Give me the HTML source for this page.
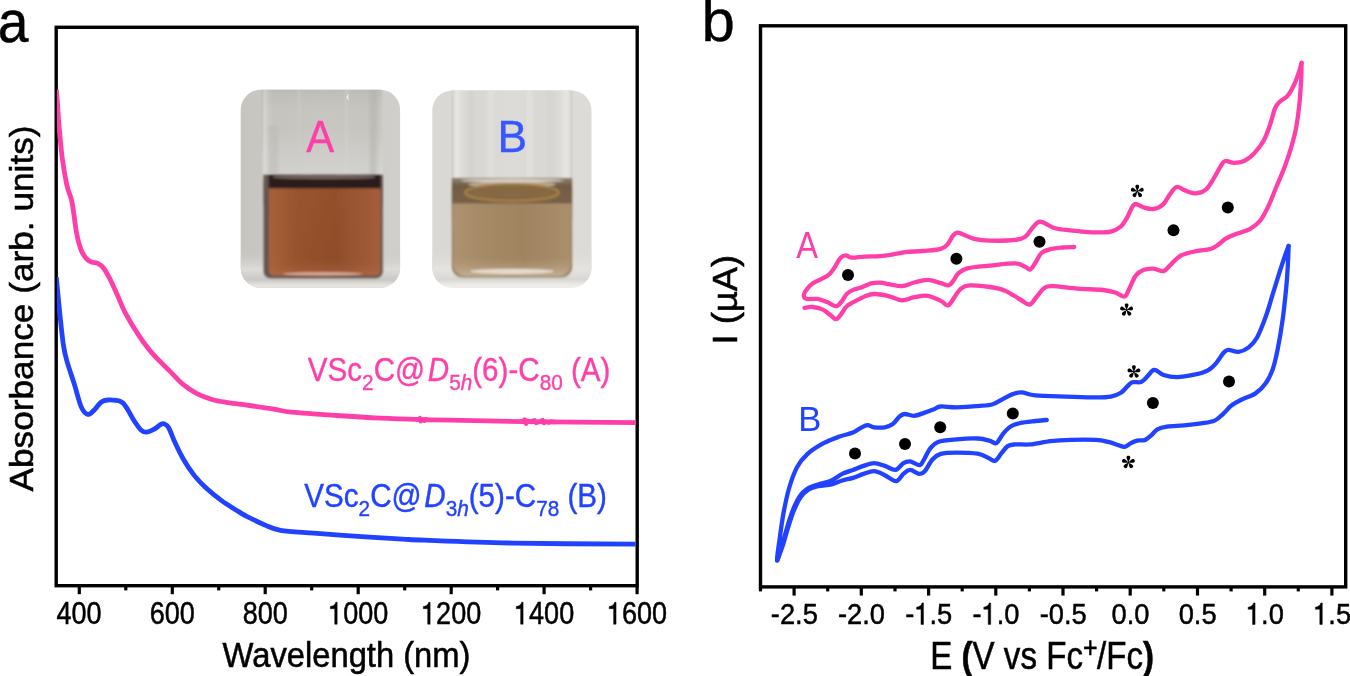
<!DOCTYPE html>
<html><head><meta charset="utf-8"><title>figure</title>
<style>
html,body{margin:0;padding:0;background:#fff;}
body{width:1350px;height:676px;overflow:hidden;}
svg{display:block;font-family:"Liberation Sans", sans-serif;opacity:0.999;}
</style></head><body>
<svg width="1350" height="676" viewBox="0 0 1350 676">
<defs>
  <clipPath id="clipA"><rect x="240.7" y="89.8" width="159.4" height="198" rx="20" ry="20"/></clipPath>
  <clipPath id="clipPlotA"><rect x="56.9" y="27" width="578.8" height="559"/></clipPath>
  <clipPath id="clipB"><rect x="432.3" y="90.5" width="159.2" height="197" rx="20" ry="20"/></clipPath>
  <filter id="blur2" x="-50%" y="-5%" width="200%" height="110%"><feGaussianBlur stdDeviation="1.5 0.5"/></filter>
  <filter id="blur1" x="-5%" y="-5%" width="110%" height="110%"><feGaussianBlur stdDeviation="0.8"/></filter>
  <linearGradient id="bgA" x1="0" y1="0" x2="1" y2="0">
    <stop offset="0" stop-color="#c6c5c0"/><stop offset="0.5" stop-color="#cbcac6"/><stop offset="1" stop-color="#d0cfcb"/>
  </linearGradient>
  <linearGradient id="tblA" x1="0" y1="0" x2="0" y2="1">
    <stop offset="0" stop-color="#cbcac6" stop-opacity="0"/><stop offset="0.45" stop-color="#dddcd8"/><stop offset="0.72" stop-color="#c9c8c4"/><stop offset="0.85" stop-color="#e4e3df"/><stop offset="1" stop-color="#e8e7e3"/>
  </linearGradient>
  <linearGradient id="glassA" x1="0" y1="0" x2="1" y2="0">
    <stop offset="0" stop-color="#bcbbb6"/><stop offset="0.03" stop-color="#cfcec9"/><stop offset="0.1" stop-color="#c5c4bf"/><stop offset="0.5" stop-color="#c7c6c1"/><stop offset="0.88" stop-color="#c6c5c0"/><stop offset="0.93" stop-color="#bdbcb7"/><stop offset="1" stop-color="#cccbc6"/>
  </linearGradient>
  <linearGradient id="glassAv" x1="0" y1="0" x2="0" y2="1">
    <stop offset="0" stop-color="#000" stop-opacity="0.05"/><stop offset="0.45" stop-color="#fff" stop-opacity="0"/><stop offset="1" stop-color="#fff" stop-opacity="0.22"/>
  </linearGradient>
  <linearGradient id="liqA" x1="0" y1="0" x2="1" y2="0">
    <stop offset="0" stop-color="#a9623b"/><stop offset="0.25" stop-color="#96522d"/><stop offset="0.6" stop-color="#8f4d2a"/><stop offset="0.85" stop-color="#9c5735"/><stop offset="1" stop-color="#a65e3c"/>
  </linearGradient>
  <linearGradient id="liqAv" x1="0" y1="0" x2="0" y2="1">
    <stop offset="0" stop-color="#a05a34" stop-opacity="0.25"/><stop offset="0.8" stop-color="#a05a34" stop-opacity="0"/><stop offset="1" stop-color="#b87050" stop-opacity="0.5"/>
  </linearGradient>
  <linearGradient id="bgB" x1="0" y1="0" x2="1" y2="0">
    <stop offset="0" stop-color="#dad8d4"/><stop offset="1" stop-color="#dddbd7"/>
  </linearGradient>
  <linearGradient id="tblB" x1="0" y1="0" x2="0" y2="1">
    <stop offset="0" stop-color="#dcdad6" stop-opacity="0"/><stop offset="0.5" stop-color="#e6e4e0"/><stop offset="0.75" stop-color="#d9d7d3"/><stop offset="0.88" stop-color="#ecebe7"/><stop offset="1" stop-color="#efeeea"/>
  </linearGradient>
  <linearGradient id="glassB" x1="0" y1="0" x2="1" y2="0">
    <stop offset="0" stop-color="#cfcdc9"/><stop offset="0.04" stop-color="#e2e0dd"/><stop offset="0.15" stop-color="#d8d6d3"/><stop offset="0.5" stop-color="#dddbd8"/><stop offset="0.85" stop-color="#d9d7d4"/><stop offset="0.96" stop-color="#e4e2df"/><stop offset="1" stop-color="#cfcdc9"/>
  </linearGradient>
  <linearGradient id="liqB" x1="0" y1="0" x2="1" y2="0">
    <stop offset="0" stop-color="#ad9270"/><stop offset="0.3" stop-color="#a58965"/><stop offset="0.6" stop-color="#a08360"/><stop offset="1" stop-color="#aa8f6c"/>
  </linearGradient>
  <linearGradient id="liqBv" x1="0" y1="0" x2="0" y2="1">
    <stop offset="0" stop-color="#b39a78" stop-opacity="0"/><stop offset="0.75" stop-color="#b39a78" stop-opacity="0"/><stop offset="1" stop-color="#cbb9a0" stop-opacity="0.8"/>
  </linearGradient>
  <linearGradient id="menB" x1="0" y1="0" x2="0" y2="1">
    <stop offset="0" stop-color="#8e8272"/><stop offset="0.3" stop-color="#6f5c45"/><stop offset="1" stop-color="#7a6247"/>
  </linearGradient>
</defs>
<rect width="1350" height="676" fill="#fff"/>

<text transform="translate(-2.3 41.8) scale(0.92 1)" font-size="60" fill="#000" stroke="#000" stroke-width="0.5">a</text>
<text x="701.5" y="41" font-size="60" fill="#000" stroke="#000" stroke-width="0.4">b</text>

<g clip-path="url(#clipA)">
  <rect x="238" y="88" width="166" height="202" fill="url(#bgA)"/>
  <rect x="238" y="251" width="166" height="40" fill="url(#tblA)"/>
  <rect x="261.5" y="88" width="121" height="87" fill="url(#glassA)"/>
  <rect x="261.5" y="88" width="121" height="87" fill="url(#glassAv)"/>
  <g filter="url(#blur2)" opacity="0.5">
    <rect x="262.5" y="90" width="4" height="84" fill="#dddcd8"/>
    <rect x="268" y="125" width="10" height="48" fill="#bbbab5"/>
    <rect x="345" y="90" width="3" height="84" fill="#d6d5d1"/>
    <rect x="370" y="90" width="5" height="84" fill="#b9b8b3"/>
    <rect x="298" y="90" width="2.5" height="84" fill="#d2d1cd"/>
  </g>
  <path d="M346.5 96.5l2.2 -3.2l-0.6 4.2l1.2 2.6l-2.2 -1.6z" fill="#f4f3f0"/>
  <g filter="url(#blur1)">
    <rect x="263.6" y="174.8" width="119.2" height="103.4" rx="7" ry="7" fill="#66554f"/>
    <rect x="263.6" y="174.8" width="119.2" height="30" fill="#66554f"/>
    <rect x="269" y="188" width="111.4" height="87.6" rx="5" ry="5" fill="url(#liqA)"/>
    <rect x="269" y="188" width="111.4" height="40" fill="url(#liqA)"/>
    <rect x="269" y="188" width="111.4" height="87.6" rx="5" ry="5" fill="url(#liqAv)"/>
    <rect x="268.6" y="175" width="112" height="13.3" fill="#2a1f1d"/>
    <ellipse cx="324" cy="177" rx="52" ry="2.3" fill="#6f5f5a"/>
    <ellipse cx="322.5" cy="273.8" rx="40" ry="1.6" fill="#d9ab96"/>
  </g>
</g>

<g clip-path="url(#clipB)">
  <rect x="430" y="88" width="166" height="202" fill="url(#bgB)"/>
  <rect x="430" y="248" width="166" height="42" fill="url(#tblB)"/>
  <rect x="451.5" y="88" width="121" height="92" fill="url(#glassB)"/>
  <g filter="url(#blur2)" opacity="0.6">
    <rect x="455" y="90" width="4" height="88" fill="#ebe9e6"/>
    <rect x="470" y="90" width="3" height="88" fill="#d0cecb"/>
    <rect x="488" y="90" width="6" height="88" fill="#e6e4e1"/>
    <rect x="527" y="90" width="5" height="88" fill="#e7e5e2"/>
    <rect x="548" y="90" width="3" height="88" fill="#d2d0cd"/>
    <rect x="563" y="90" width="5" height="88" fill="#e9e7e4"/>
  </g>
  <g filter="url(#blur1)">
    <rect x="451.8" y="178" width="120.4" height="99.5" rx="11" ry="11" fill="#9a8467"/>
    <rect x="451.8" y="178" width="120.4" height="40" fill="#9a8467"/>
    <rect x="453.5" y="201" width="117" height="75" rx="12" ry="12" fill="url(#liqB)"/>
    <rect x="453.5" y="201" width="117" height="30" fill="url(#liqB)"/>
    <rect x="453.5" y="201" width="117" height="75" rx="12" ry="12" fill="url(#liqBv)"/>
    <rect x="452" y="178.5" width="120" height="25" fill="url(#menB)"/>
    <ellipse cx="512" cy="184.5" rx="44" ry="3.2" fill="#c4b7a2" opacity="0.85"/>
    <ellipse cx="512" cy="192.5" rx="47" ry="8.5" fill="#866744" stroke="#a98344" stroke-width="2.2"/>
    <ellipse cx="512" cy="180.6" rx="52" ry="1.8" fill="#d6cfc3"/>
    <ellipse cx="512" cy="271.3" rx="42" ry="2.6" fill="#e4dacd"/>
  </g>
</g>
<text transform="translate(320.1 151.7) scale(0.935 1)" text-anchor="middle" font-size="44.8" fill="#ff3fa9" stroke="#ff3fa9" stroke-width="0.4">A</text>
<text transform="translate(512.4 151.7) scale(0.99 1)" text-anchor="middle" font-size="44.8" fill="#3656ff" stroke="#3656ff" stroke-width="0.4">B</text>
<path d="M1074.2 247.0C1072.3 247.1 1066.9 247.1 1062.9 247.5C1058.9 247.9 1053.9 248.3 1050.3 249.2C1046.7 250.1 1044.0 250.7 1041.5 253.0C1039.0 255.3 1037.1 260.4 1035.2 263.1C1033.3 265.8 1031.9 268.8 1030.2 269.4C1028.5 270.0 1027.7 267.8 1025.2 266.8C1022.7 265.8 1021.0 263.6 1015.1 263.4C1009.2 263.2 997.9 264.8 990.0 265.6C982.1 266.4 972.7 267.0 967.5 268.3C962.3 269.6 961.0 271.1 958.6 273.2C956.2 275.3 954.8 279.0 953.1 281.0C951.4 283.0 950.6 285.0 948.6 285.4C946.6 285.8 944.4 284.1 940.9 283.2C937.4 282.3 932.0 280.0 927.6 279.9C923.2 279.8 918.6 281.5 914.3 282.5C910.0 283.5 906.1 285.8 902.0 286.1C897.9 286.4 893.5 284.9 889.8 284.3C886.1 283.7 883.1 282.8 880.0 282.6C876.9 282.5 874.2 282.6 871.1 283.4C868.0 284.2 864.3 286.4 861.3 287.5C858.3 288.6 855.6 288.8 853.2 289.9C850.8 291.0 848.6 292.1 846.7 294.0C844.8 295.9 843.6 299.3 841.8 301.3C840.0 303.3 838.5 306.1 836.1 306.2C833.7 306.3 830.3 303.3 827.2 302.1C824.1 300.9 820.8 299.4 817.4 298.9C814.0 298.4 809.2 299.4 807.0 299.0C804.8 298.6 804.2 297.6 803.9 296.3C803.6 295.0 803.9 293.5 805.3 291.3C806.7 289.1 808.9 285.9 812.5 283.4C816.1 280.9 823.7 278.5 827.2 276.1C830.7 273.7 831.5 271.8 833.7 268.8C835.9 265.8 838.2 260.4 840.2 258.2C842.2 256.0 844.0 255.5 845.9 255.4C847.8 255.3 848.4 257.5 851.5 257.7C854.6 257.9 859.9 256.9 864.6 256.6C869.4 256.3 875.8 256.4 880.0 256.1C884.2 255.8 885.6 255.7 889.8 255.0C894.0 254.3 899.8 252.8 905.4 252.1C911.0 251.4 917.2 251.6 923.1 251.0C929.0 250.4 936.8 249.9 940.9 248.8C945.0 247.7 945.5 246.6 947.5 244.4C949.5 242.2 951.4 237.5 953.1 235.5C954.8 233.5 955.8 232.8 957.5 232.6C959.2 232.4 960.3 233.4 963.1 234.4C965.9 235.4 969.8 237.8 974.2 238.8C978.6 239.8 982.9 240.4 989.7 240.6C996.5 240.8 1009.2 240.6 1015.1 239.9C1021.0 239.2 1022.5 238.5 1025.2 236.7C1027.9 234.9 1029.4 231.5 1031.5 229.1C1033.6 226.7 1035.9 223.4 1037.8 222.3C1039.7 221.2 1040.3 221.5 1042.8 222.3C1045.3 223.2 1049.6 226.2 1052.8 227.4C1056.0 228.6 1059.1 229.0 1062.0 229.5C1064.9 230.0 1064.8 229.8 1070.4 230.3C1076.0 230.8 1088.9 232.2 1095.6 232.4C1102.3 232.6 1106.5 232.6 1110.7 231.6C1114.9 230.6 1118.0 228.9 1120.7 226.6C1123.4 224.3 1125.1 221.0 1127.0 217.8C1128.9 214.6 1130.5 209.6 1132.0 207.3C1133.5 205.0 1133.9 204.0 1135.8 204.0C1137.7 204.0 1140.4 206.5 1143.3 207.3C1146.2 208.1 1150.2 209.4 1153.4 209.0C1156.7 208.6 1160.0 207.1 1162.8 204.6C1165.6 202.1 1168.0 196.7 1170.3 193.8C1172.6 190.9 1174.1 187.6 1176.6 187.0C1179.0 186.4 1181.8 189.3 1185.0 190.4C1188.2 191.5 1192.5 193.5 1196.0 193.3C1199.5 193.2 1203.0 192.1 1206.0 189.5C1209.0 186.9 1211.5 182.1 1214.0 178.0C1216.5 173.9 1219.4 168.0 1221.3 165.2C1223.2 162.4 1223.0 161.4 1225.2 161.0C1227.4 160.6 1231.2 162.9 1234.3 162.9C1237.4 162.9 1240.8 162.5 1244.1 161.0C1247.3 159.5 1250.5 157.2 1253.8 153.8C1257.0 150.4 1260.9 145.7 1263.6 140.8C1266.3 135.9 1268.2 130.0 1270.1 124.6C1272.0 119.2 1273.4 112.1 1275.0 108.3C1276.6 104.5 1277.6 104.0 1279.8 101.8C1282.0 99.6 1285.5 98.3 1288.0 95.3C1290.5 92.3 1292.6 88.0 1294.5 83.9C1296.4 79.8 1298.1 74.4 1299.3 70.9C1300.5 67.4 1301.2 64.2 1301.6 62.8" fill="none" stroke="#ff3fa9" stroke-width="4.3" stroke-linejoin="round" stroke-linecap="round"/>
<path d="M1301.6 62.8C1301.5 66.0 1301.4 75.3 1301.0 82.3C1300.6 89.3 1300.1 97.4 1299.3 105.0C1298.5 112.6 1297.4 120.8 1296.1 127.8C1294.8 134.8 1293.1 140.8 1291.2 147.3C1289.3 153.8 1287.1 160.3 1284.7 166.8C1282.3 173.3 1279.3 179.8 1276.6 186.3C1273.9 192.8 1271.2 200.2 1268.5 205.9C1265.8 211.6 1263.3 216.7 1260.3 220.5C1257.3 224.3 1254.4 226.4 1250.6 228.6C1246.8 230.8 1241.7 231.9 1237.6 233.5C1233.5 235.1 1229.5 236.5 1226.2 238.4C1222.9 240.3 1220.7 243.1 1218.0 244.9C1215.3 246.7 1213.6 248.1 1209.9 249.2C1206.2 250.2 1200.9 250.1 1196.1 251.2C1191.3 252.2 1185.2 253.3 1181.0 255.5C1176.8 257.7 1173.9 261.7 1171.0 264.3C1168.1 266.9 1166.4 270.4 1163.5 271.1C1160.6 271.8 1156.8 268.8 1153.4 268.6C1150.0 268.4 1146.2 268.9 1143.3 270.1C1140.4 271.3 1138.1 272.6 1135.8 275.6C1133.5 278.6 1131.4 284.7 1129.5 288.2C1127.6 291.7 1126.8 295.8 1124.5 296.5C1122.2 297.2 1119.3 293.8 1115.7 292.7C1112.1 291.6 1109.4 290.7 1103.1 290.0C1096.8 289.3 1086.4 289.3 1078.0 288.7C1069.6 288.1 1058.5 286.3 1052.8 286.2C1047.1 286.1 1046.7 286.4 1044.0 288.2C1041.3 290.0 1038.9 294.3 1036.5 297.0C1034.1 299.7 1032.4 304.1 1029.7 304.5C1027.0 304.9 1024.3 301.8 1020.2 299.5C1016.1 297.2 1010.1 292.8 1005.1 290.7C1000.1 288.6 995.9 287.9 990.0 287.0C984.1 286.1 974.6 285.1 969.7 285.4C964.8 285.7 963.4 286.7 960.8 288.7C958.2 290.7 956.3 294.8 954.2 297.6C952.1 300.4 950.2 304.8 948.0 305.4C945.8 305.9 944.3 302.5 940.9 300.9C937.5 299.3 932.0 296.4 927.6 295.8C923.2 295.2 918.6 296.4 914.3 297.2C910.0 297.9 906.5 300.5 902.0 300.3C897.5 300.1 892.2 296.9 887.6 295.8C883.0 294.8 878.1 293.9 874.3 294.0C870.5 294.1 867.9 295.2 864.6 296.4C861.4 297.6 857.8 299.7 854.8 301.3C851.8 302.9 849.0 304.0 846.7 306.2C844.4 308.4 842.8 312.1 841.0 314.3C839.2 316.5 837.9 319.1 836.1 319.2C834.3 319.3 832.7 316.7 830.4 315.1C828.1 313.5 825.3 310.8 822.3 309.4C819.3 308.0 815.5 307.3 812.5 307.0C809.5 306.7 805.8 307.7 804.5 307.8" fill="none" stroke="#ff3fa9" stroke-width="4.3" stroke-linejoin="round" stroke-linecap="round"/>
<path d="M1046.7 420.0C1044.8 420.2 1039.8 420.5 1035.4 421.0C1031.0 421.5 1024.5 422.0 1020.3 423.0C1016.1 424.0 1013.1 424.9 1010.2 426.8C1007.3 428.7 1005.0 431.6 1002.7 434.3C1000.4 437.0 998.5 442.0 996.4 443.1C994.3 444.2 993.2 441.7 990.1 440.9C987.0 440.1 983.6 438.8 978.0 438.5C972.4 438.2 963.4 438.7 956.7 439.3C950.1 439.9 942.5 440.3 938.1 441.9C933.7 443.4 932.6 445.5 930.1 448.6C927.6 451.7 925.2 457.9 923.4 460.6C921.6 463.4 921.6 465.0 919.4 465.1C917.2 465.2 912.8 461.7 910.1 461.4C907.4 461.1 905.8 461.8 903.4 463.2C901.0 464.6 898.6 469.4 895.5 469.9C892.4 470.3 888.3 467.0 884.8 465.9C881.2 464.8 877.8 463.2 874.2 463.2C870.7 463.2 867.0 464.8 863.5 465.9C860.0 467.0 856.4 468.6 852.9 469.9C849.4 471.2 845.8 472.1 842.2 473.9C838.7 475.7 835.6 478.7 831.6 480.5C827.6 482.3 822.2 483.2 818.2 484.5C814.2 485.8 810.7 486.5 807.6 488.5C804.5 490.5 802.0 492.9 799.6 496.5C797.2 500.1 795.0 504.9 793.0 509.8C791.0 514.7 789.4 520.0 787.6 525.8C785.8 531.6 784.1 538.6 782.3 544.4C780.5 550.2 777.5 561.3 777.0 560.4C776.5 559.5 778.5 547.1 779.6 539.1C780.7 531.1 782.0 520.9 783.6 512.5C785.2 504.1 786.8 496.1 789.0 488.5C791.2 480.9 793.9 473.0 797.0 467.2C800.1 461.4 803.2 457.9 807.6 453.9C812.0 449.9 818.3 446.1 823.6 443.2C828.9 440.3 834.6 438.4 839.5 436.6C844.4 434.8 849.4 434.1 852.9 432.6C856.4 431.1 858.4 429.1 860.8 427.8C863.2 426.6 865.3 425.2 867.5 425.1C869.7 425.0 871.3 426.9 874.2 427.3C877.1 427.7 881.7 427.8 884.8 427.3C887.9 426.8 890.3 425.9 892.8 424.1C895.2 422.3 897.5 418.3 899.5 416.6C901.5 414.9 902.4 414.1 904.8 414.0C907.2 413.9 910.8 416.0 914.1 415.8C917.4 415.6 921.4 413.7 924.7 412.6C928.0 411.5 931.4 410.2 934.1 409.2C936.8 408.2 936.9 406.8 940.7 406.5C944.5 406.2 950.1 407.4 956.7 407.3C963.3 407.2 974.1 406.4 980.1 405.9C986.1 405.4 988.9 405.3 992.7 404.2C996.5 403.1 999.4 400.8 1002.7 399.1C1006.1 397.4 1009.6 395.2 1012.8 394.1C1015.9 393.0 1017.8 392.1 1021.6 392.3C1025.4 392.5 1028.1 394.7 1035.4 395.4C1042.7 396.1 1055.5 396.3 1065.6 396.6C1075.6 396.9 1088.2 397.4 1095.7 397.4C1103.2 397.4 1106.6 397.4 1110.8 396.6C1115.0 395.8 1118.2 394.5 1120.9 392.8C1123.6 391.1 1125.2 388.4 1127.1 386.6C1129.0 384.9 1129.9 383.1 1132.2 382.3C1134.5 381.5 1138.5 383.0 1141.0 382.0C1143.5 381.0 1145.4 378.4 1147.3 376.5C1149.2 374.6 1150.8 371.8 1152.3 370.7C1153.8 369.6 1154.1 369.5 1156.0 370.2C1157.9 370.9 1160.1 373.9 1163.6 375.0C1167.1 376.1 1172.1 377.2 1177.2 377.1C1182.3 377.1 1189.2 375.8 1194.3 374.7C1199.4 373.6 1204.2 372.3 1207.9 370.3C1211.6 368.3 1213.9 365.7 1216.4 362.8C1219.0 359.9 1221.2 355.4 1223.2 353.2C1225.2 351.0 1225.8 350.0 1228.3 349.8C1230.8 349.6 1235.1 352.3 1238.5 351.9C1241.9 351.5 1245.6 349.8 1248.7 347.4C1251.8 344.9 1254.4 342.3 1257.2 337.2C1260.0 332.1 1263.1 323.9 1265.7 316.8C1268.3 309.7 1270.3 302.1 1272.6 294.7C1274.9 287.3 1277.4 278.9 1279.4 272.6C1281.4 266.4 1283.0 261.6 1284.5 257.2C1286.0 252.8 1287.9 247.9 1288.6 246.0" fill="none" stroke="#2142ff" stroke-width="4.3" stroke-linejoin="round" stroke-linecap="round"/>
<path d="M1288.6 246.0C1288.5 249.0 1288.3 257.0 1287.9 264.0C1287.5 271.0 1287.1 278.8 1286.2 287.9C1285.3 297.0 1284.2 308.3 1282.8 318.5C1281.4 328.7 1279.4 340.6 1277.7 349.1C1276.0 357.6 1274.6 363.9 1272.6 369.6C1270.6 375.3 1268.5 379.2 1265.7 383.2C1262.9 387.2 1259.5 390.7 1255.5 393.4C1251.5 396.1 1245.9 397.5 1241.9 399.5C1237.9 401.5 1234.8 402.9 1231.7 405.3C1228.6 407.7 1226.0 411.2 1223.2 413.8C1220.4 416.4 1218.4 419.0 1214.7 420.6C1211.0 422.2 1206.2 422.6 1201.1 423.4C1196.0 424.2 1189.7 424.9 1184.0 425.4C1178.3 425.9 1171.5 426.0 1167.0 426.6C1162.5 427.2 1160.0 427.8 1157.3 429.3C1154.6 430.8 1153.1 433.8 1151.0 435.6C1148.9 437.4 1147.0 439.3 1144.7 440.1C1142.4 440.9 1139.5 440.1 1137.2 440.6C1134.9 441.1 1133.0 442.1 1130.9 443.1C1128.8 444.2 1126.7 446.6 1124.6 446.9C1122.5 447.2 1121.0 445.9 1118.3 445.1C1115.6 444.3 1112.1 442.8 1108.3 441.9C1104.5 441.0 1102.0 440.2 1095.7 439.9C1089.4 439.6 1078.1 439.7 1070.6 439.9C1063.1 440.1 1057.2 440.4 1050.5 441.1C1043.8 441.9 1036.3 443.8 1030.4 444.4C1024.5 444.9 1019.1 444.1 1015.3 444.4C1011.5 444.7 1010.0 444.6 1007.7 446.1C1005.4 447.6 1003.6 450.8 1001.5 453.2C999.4 455.6 997.3 459.9 995.2 460.7C993.1 461.5 991.8 459.4 988.9 458.2C986.0 457.0 983.0 454.6 977.6 453.7C972.2 452.8 962.9 452.6 956.7 452.6C950.6 452.6 944.7 452.8 940.7 453.9C936.7 455.0 935.4 456.3 932.7 459.2C930.0 462.1 926.9 468.8 924.7 471.2C922.5 473.6 921.8 474.1 919.4 473.9C917.0 473.7 912.8 469.9 910.1 469.9C907.4 469.9 905.8 472.0 903.4 473.9C901.0 475.8 899.1 480.9 896.0 481.1C892.9 481.3 888.4 476.9 884.8 475.2C881.2 473.5 877.8 471.4 874.2 471.2C870.7 471.0 867.0 472.8 863.5 473.9C860.0 475.0 856.4 476.8 852.9 477.9C849.4 479.0 845.8 479.4 842.2 480.5C838.7 481.6 835.6 483.4 831.6 484.3C827.6 485.2 822.1 485.3 818.2 486.2C814.3 487.1 811.3 487.9 808.3 489.8C805.3 491.7 802.8 494.1 800.4 497.6C798.0 501.1 795.8 505.9 793.8 510.8C791.8 515.7 790.1 521.1 788.3 526.8C786.5 532.5 784.7 539.6 782.9 545.2C781.1 550.8 778.2 557.9 777.3 560.4" fill="none" stroke="#2142ff" stroke-width="4.3" stroke-linejoin="round" stroke-linecap="round"/>
<g fill="#000">
<rect x="56.2" y="27.3" width="581.0" height="558.4" fill="none" stroke="#000" stroke-width="3.4"/><line x1="79.3" y1="586" x2="79.3" y2="594.2" stroke="#000" stroke-width="3.2"/><g transform="translate(56.55 624.20) scale(0.872 1)" font-size="31" stroke="#000" stroke-width="0.5"><text x="0.00" y="0">400</text></g><line x1="125.8" y1="586" x2="125.8" y2="590.4" stroke="#000" stroke-width="3.2"/><line x1="172.3" y1="586" x2="172.3" y2="594.2" stroke="#000" stroke-width="3.2"/><g transform="translate(149.71 624.20) scale(0.872 1)" font-size="31" stroke="#000" stroke-width="0.5"><text x="0.00" y="0">600</text></g><line x1="218.7" y1="586" x2="218.7" y2="590.4" stroke="#000" stroke-width="3.2"/><line x1="265.2" y1="586" x2="265.2" y2="594.2" stroke="#000" stroke-width="3.2"/><g transform="translate(242.68 624.20) scale(0.872 1)" font-size="31" stroke="#000" stroke-width="0.5"><text x="0.00" y="0">800</text></g><line x1="311.7" y1="586" x2="311.7" y2="590.4" stroke="#000" stroke-width="3.2"/><line x1="358.2" y1="586" x2="358.2" y2="594.2" stroke="#000" stroke-width="3.2"/><g transform="translate(328.13 624.20) scale(0.872 1)" font-size="31" stroke="#000" stroke-width="0.5"><path transform="translate(0.00 0) scale(31)" stroke-width="0.0161" d="M0.334 0L0.244 0L0.244 -0.5L0.082 -0.5L0.082 -0.57C0.19 -0.582 0.262 -0.63 0.282 -0.709L0.334 -0.709Z"/><text x="17.24" y="0">000</text></g><line x1="404.7" y1="586" x2="404.7" y2="590.4" stroke="#000" stroke-width="3.2"/><line x1="451.2" y1="586" x2="451.2" y2="594.2" stroke="#000" stroke-width="3.2"/><g transform="translate(421.09 624.20) scale(0.872 1)" font-size="31" stroke="#000" stroke-width="0.5"><path transform="translate(0.00 0) scale(31)" stroke-width="0.0161" d="M0.334 0L0.244 0L0.244 -0.5L0.082 -0.5L0.082 -0.57C0.19 -0.582 0.262 -0.63 0.282 -0.709L0.334 -0.709Z"/><text x="17.24" y="0">200</text></g><line x1="497.6" y1="586" x2="497.6" y2="590.4" stroke="#000" stroke-width="3.2"/><line x1="544.1" y1="586" x2="544.1" y2="594.2" stroke="#000" stroke-width="3.2"/><g transform="translate(514.06 624.20) scale(0.872 1)" font-size="31" stroke="#000" stroke-width="0.5"><path transform="translate(0.00 0) scale(31)" stroke-width="0.0161" d="M0.334 0L0.244 0L0.244 -0.5L0.082 -0.5L0.082 -0.57C0.19 -0.582 0.262 -0.63 0.282 -0.709L0.334 -0.709Z"/><text x="17.24" y="0">400</text></g><line x1="590.6" y1="586" x2="590.6" y2="590.4" stroke="#000" stroke-width="3.2"/><line x1="637.1" y1="586" x2="637.1" y2="594.2" stroke="#000" stroke-width="3.2"/><g transform="translate(607.03 624.20) scale(0.872 1)" font-size="31" stroke="#000" stroke-width="0.5"><path transform="translate(0.00 0) scale(31)" stroke-width="0.0161" d="M0.334 0L0.244 0L0.244 -0.5L0.082 -0.5L0.082 -0.57C0.19 -0.582 0.262 -0.63 0.282 -0.709L0.334 -0.709Z"/><text x="17.24" y="0">600</text></g>
<rect x="760.5" y="25.8" width="585.2" height="561.1" fill="none" stroke="#000" stroke-width="3.4"/><line x1="760.5" y1="587" x2="760.5" y2="591.4" stroke="#000" stroke-width="3.2"/><line x1="794.1" y1="587" x2="794.1" y2="595.6" stroke="#000" stroke-width="3.2"/><g transform="translate(770.82 624.40) scale(0.900 1)" font-size="30.3" stroke="#000" stroke-width="0.5"><text x="0.00" y="0">-2.5</text></g><line x1="827.7" y1="587" x2="827.7" y2="591.4" stroke="#000" stroke-width="3.2"/><line x1="861.3" y1="587" x2="861.3" y2="595.6" stroke="#000" stroke-width="3.2"/><g transform="translate(838.04 624.40) scale(0.900 1)" font-size="30.3" stroke="#000" stroke-width="0.5"><text x="0.00" y="0">-2.0</text></g><line x1="895.0" y1="587" x2="895.0" y2="591.4" stroke="#000" stroke-width="3.2"/><line x1="928.6" y1="587" x2="928.6" y2="595.6" stroke="#000" stroke-width="3.2"/><g transform="translate(905.27 624.40) scale(0.900 1)" font-size="30.3" stroke="#000" stroke-width="0.5"><text x="0.00" y="0">-</text><path transform="translate(10.09 0) scale(30.3)" stroke-width="0.0165" d="M0.334 0L0.244 0L0.244 -0.5L0.082 -0.5L0.082 -0.57C0.19 -0.582 0.262 -0.63 0.282 -0.709L0.334 -0.709Z"/><text x="26.94" y="0">.5</text></g><line x1="962.2" y1="587" x2="962.2" y2="591.4" stroke="#000" stroke-width="3.2"/><line x1="995.8" y1="587" x2="995.8" y2="595.6" stroke="#000" stroke-width="3.2"/><g transform="translate(972.49 624.40) scale(0.900 1)" font-size="30.3" stroke="#000" stroke-width="0.5"><text x="0.00" y="0">-</text><path transform="translate(10.09 0) scale(30.3)" stroke-width="0.0165" d="M0.334 0L0.244 0L0.244 -0.5L0.082 -0.5L0.082 -0.57C0.19 -0.582 0.262 -0.63 0.282 -0.709L0.334 -0.709Z"/><text x="26.94" y="0">.0</text></g><line x1="1029.4" y1="587" x2="1029.4" y2="591.4" stroke="#000" stroke-width="3.2"/><line x1="1063.0" y1="587" x2="1063.0" y2="595.6" stroke="#000" stroke-width="3.2"/><g transform="translate(1039.72 624.40) scale(0.900 1)" font-size="30.3" stroke="#000" stroke-width="0.5"><text x="0.00" y="0">-0.5</text></g><line x1="1096.6" y1="587" x2="1096.6" y2="591.4" stroke="#000" stroke-width="3.2"/><line x1="1130.2" y1="587" x2="1130.2" y2="595.6" stroke="#000" stroke-width="3.2"/><g transform="translate(1111.48 624.40) scale(0.900 1)" font-size="30.3" stroke="#000" stroke-width="0.5"><text x="0.00" y="0">0.0</text></g><line x1="1163.8" y1="587" x2="1163.8" y2="591.4" stroke="#000" stroke-width="3.2"/><line x1="1197.5" y1="587" x2="1197.5" y2="595.6" stroke="#000" stroke-width="3.2"/><g transform="translate(1178.71 624.40) scale(0.900 1)" font-size="30.3" stroke="#000" stroke-width="0.5"><text x="0.00" y="0">0.5</text></g><line x1="1231.1" y1="587" x2="1231.1" y2="591.4" stroke="#000" stroke-width="3.2"/><line x1="1264.7" y1="587" x2="1264.7" y2="595.6" stroke="#000" stroke-width="3.2"/><g transform="translate(1245.93 624.40) scale(0.900 1)" font-size="30.3" stroke="#000" stroke-width="0.5"><path transform="translate(0.00 0) scale(30.3)" stroke-width="0.0165" d="M0.334 0L0.244 0L0.244 -0.5L0.082 -0.5L0.082 -0.57C0.19 -0.582 0.262 -0.63 0.282 -0.709L0.334 -0.709Z"/><text x="16.85" y="0">.0</text></g><line x1="1298.3" y1="587" x2="1298.3" y2="591.4" stroke="#000" stroke-width="3.2"/><line x1="1331.9" y1="587" x2="1331.9" y2="595.6" stroke="#000" stroke-width="3.2"/><g transform="translate(1313.16 624.40) scale(0.900 1)" font-size="30.3" stroke="#000" stroke-width="0.5"><path transform="translate(0.00 0) scale(30.3)" stroke-width="0.0165" d="M0.334 0L0.244 0L0.244 -0.5L0.082 -0.5L0.082 -0.57C0.19 -0.582 0.262 -0.63 0.282 -0.709L0.334 -0.709Z"/><text x="16.85" y="0">.5</text></g>
</g>
<g clip-path="url(#clipPlotA)">
<path d="M56.3 89.6C56.5 92.2 57.2 99.2 57.6 105.0C58.0 110.8 58.1 115.6 58.9 124.4C59.7 133.2 60.9 147.8 62.2 157.8C63.5 167.8 65.2 177.4 66.7 184.4C68.2 191.4 70.2 194.4 71.5 200.0C72.8 205.6 73.6 212.2 74.4 217.8C75.2 223.4 75.5 227.9 76.6 233.3C77.7 238.7 79.4 245.8 81.1 250.0C82.8 254.2 84.8 256.8 86.6 258.8C88.4 260.8 90.3 261.4 92.2 262.2C94.1 262.9 95.9 262.4 97.7 263.3C99.5 264.2 101.3 265.1 103.3 267.7C105.3 270.3 107.7 274.6 109.9 278.8C112.1 283.1 114.0 287.5 116.6 293.2C119.2 298.9 121.7 306.2 125.4 313.2C129.1 320.2 134.4 328.8 138.8 335.4C143.2 342.0 146.9 347.2 152.1 353.1C157.3 359.1 164.6 365.9 169.8 371.1C175.0 376.3 178.7 380.7 183.1 384.4C187.5 388.1 191.6 390.8 196.4 393.3C201.2 395.8 206.8 397.9 212.0 399.5C217.2 401.1 221.2 401.6 227.5 402.6C233.8 403.6 241.8 404.4 249.7 405.5C257.6 406.6 268.0 408.2 275.0 409.3C282.0 410.4 281.5 411.2 291.6 412.2C301.8 413.2 321.1 414.5 335.9 415.5C350.7 416.5 366.2 417.5 380.3 418.2C394.4 418.9 408.7 419.3 420.3 419.6C431.9 419.9 432.6 419.9 450.0 420.2C467.4 420.5 493.8 421.3 524.8 421.7C555.8 422.1 617.5 422.5 636.0 422.6" fill="none" stroke="#ff3fa9" stroke-width="4.8" stroke-linejoin="round" stroke-linecap="butt"/>
<path d="M56.3 277.3C56.5 279.8 57.1 285.6 57.7 292.0C58.3 298.4 59.1 306.7 60.0 315.4C60.9 324.1 62.2 336.9 63.3 344.3C64.4 351.7 64.8 353.3 66.6 360.0C68.4 366.7 72.0 376.6 74.4 384.4C76.8 392.2 78.9 401.6 81.1 406.6C83.3 411.6 85.5 413.8 87.7 414.4C89.9 414.9 92.2 411.9 94.4 409.9C96.6 407.9 98.8 403.8 101.0 402.2C103.2 400.6 104.4 400.1 107.7 400.0C111.0 399.9 117.9 400.4 121.0 401.7C124.1 403.0 124.3 404.5 126.5 407.7C128.7 410.9 131.9 417.3 134.3 421.0C136.7 424.7 139.0 428.0 141.0 429.9C143.0 431.8 144.3 432.2 146.5 432.1C148.7 432.0 151.9 430.5 154.3 429.2C156.7 427.9 159.2 425.2 160.9 424.3C162.6 423.4 163.0 423.3 164.3 423.9C165.6 424.5 167.0 424.8 168.7 427.7C170.4 430.6 171.9 435.8 174.3 441.0C176.7 446.2 179.8 453.0 183.1 458.7C186.4 464.4 190.5 470.6 194.2 475.4C197.9 480.1 200.9 483.1 205.3 487.2C209.8 491.3 215.4 496.1 220.9 500.2C226.4 504.3 234.2 508.9 238.6 511.6C243.0 514.3 242.8 514.4 247.2 516.6C251.6 518.8 259.3 522.7 264.9 525.0C270.4 527.3 272.4 528.9 280.5 530.3C288.6 531.6 300.9 532.1 313.8 533.1C326.7 534.1 343.3 535.4 358.1 536.4C372.9 537.4 391.4 538.5 402.5 539.1C413.6 539.7 406.4 539.5 425.0 540.2C443.6 540.9 478.6 542.4 513.8 543.1C549.0 543.8 615.6 544.0 636.0 544.2" fill="none" stroke="#2142ff" stroke-width="4.8" stroke-linejoin="round" stroke-linecap="butt"/>
<polyline points="416.0,419.5 418.5,419.2 419.8,418.2 420.8,421.2 422.0,419.4 424.5,420.6 425.5,419.2 428.0,419.9" fill="none" stroke="#ff3fa9" stroke-width="4.5" stroke-linejoin="round"/>
<polyline points="520.0,421.6 523.0,421.4 524.6,419.6 526.0,423.6 527.5,420.8 531.0,421.9 534.5,420.4 536.0,422.9 540.0,421.6 542.6,420.2 544.0,423.0 546.0,421.5 549.0,422.6 551.0,421.6 555.0,422.2" fill="none" stroke="#ff3fa9" stroke-width="4.5" stroke-linejoin="round"/>
</g>
<g fill="#000">
<circle cx="848.0" cy="275.0" r="6"/>
<circle cx="956.4" cy="258.8" r="6"/>
<circle cx="1039.5" cy="241.7" r="6"/>
<circle cx="1173.5" cy="230.3" r="6"/>
<circle cx="1227.8" cy="207.5" r="6"/>
<circle cx="855.0" cy="453.4" r="6"/>
<circle cx="905.0" cy="444.0" r="6"/>
<circle cx="940.2" cy="427.3" r="6"/>
<circle cx="1012.8" cy="413.5" r="6"/>
<circle cx="1152.9" cy="402.9" r="6"/>
<circle cx="1229.0" cy="381.5" r="6"/>
<circle cx="1137.3" cy="191.3" r="1"/><path transform="translate(1137.3 191.3) rotate(0)" d="M0 0 C0.5 -1.5 1.9 -3.6 1.9 -4.9 C1.9 -6.2 1 -6.6 0 -6.6 C-1 -6.6 -1.9 -6.2 -1.9 -4.9 C-1.9 -3.6 -0.5 -1.5 0 0Z"/><path transform="translate(1137.3 191.3) rotate(72)" d="M0 0 C0.5 -1.5 1.9 -3.6 1.9 -4.9 C1.9 -6.2 1 -6.6 0 -6.6 C-1 -6.6 -1.9 -6.2 -1.9 -4.9 C-1.9 -3.6 -0.5 -1.5 0 0Z"/><path transform="translate(1137.3 191.3) rotate(144)" d="M0 0 C0.5 -1.5 1.9 -3.6 1.9 -4.9 C1.9 -6.2 1 -6.6 0 -6.6 C-1 -6.6 -1.9 -6.2 -1.9 -4.9 C-1.9 -3.6 -0.5 -1.5 0 0Z"/><path transform="translate(1137.3 191.3) rotate(216)" d="M0 0 C0.5 -1.5 1.9 -3.6 1.9 -4.9 C1.9 -6.2 1 -6.6 0 -6.6 C-1 -6.6 -1.9 -6.2 -1.9 -4.9 C-1.9 -3.6 -0.5 -1.5 0 0Z"/><path transform="translate(1137.3 191.3) rotate(288)" d="M0 0 C0.5 -1.5 1.9 -3.6 1.9 -4.9 C1.9 -6.2 1 -6.6 0 -6.6 C-1 -6.6 -1.9 -6.2 -1.9 -4.9 C-1.9 -3.6 -0.5 -1.5 0 0Z"/>
<circle cx="1126.6" cy="310.0" r="1"/><path transform="translate(1126.6 310.0) rotate(0)" d="M0 0 C0.5 -1.5 1.9 -3.6 1.9 -4.9 C1.9 -6.2 1 -6.6 0 -6.6 C-1 -6.6 -1.9 -6.2 -1.9 -4.9 C-1.9 -3.6 -0.5 -1.5 0 0Z"/><path transform="translate(1126.6 310.0) rotate(72)" d="M0 0 C0.5 -1.5 1.9 -3.6 1.9 -4.9 C1.9 -6.2 1 -6.6 0 -6.6 C-1 -6.6 -1.9 -6.2 -1.9 -4.9 C-1.9 -3.6 -0.5 -1.5 0 0Z"/><path transform="translate(1126.6 310.0) rotate(144)" d="M0 0 C0.5 -1.5 1.9 -3.6 1.9 -4.9 C1.9 -6.2 1 -6.6 0 -6.6 C-1 -6.6 -1.9 -6.2 -1.9 -4.9 C-1.9 -3.6 -0.5 -1.5 0 0Z"/><path transform="translate(1126.6 310.0) rotate(216)" d="M0 0 C0.5 -1.5 1.9 -3.6 1.9 -4.9 C1.9 -6.2 1 -6.6 0 -6.6 C-1 -6.6 -1.9 -6.2 -1.9 -4.9 C-1.9 -3.6 -0.5 -1.5 0 0Z"/><path transform="translate(1126.6 310.0) rotate(288)" d="M0 0 C0.5 -1.5 1.9 -3.6 1.9 -4.9 C1.9 -6.2 1 -6.6 0 -6.6 C-1 -6.6 -1.9 -6.2 -1.9 -4.9 C-1.9 -3.6 -0.5 -1.5 0 0Z"/>
<circle cx="1133.9" cy="371.9" r="1"/><path transform="translate(1133.9 371.9) rotate(0)" d="M0 0 C0.5 -1.5 1.9 -3.6 1.9 -4.9 C1.9 -6.2 1 -6.6 0 -6.6 C-1 -6.6 -1.9 -6.2 -1.9 -4.9 C-1.9 -3.6 -0.5 -1.5 0 0Z"/><path transform="translate(1133.9 371.9) rotate(72)" d="M0 0 C0.5 -1.5 1.9 -3.6 1.9 -4.9 C1.9 -6.2 1 -6.6 0 -6.6 C-1 -6.6 -1.9 -6.2 -1.9 -4.9 C-1.9 -3.6 -0.5 -1.5 0 0Z"/><path transform="translate(1133.9 371.9) rotate(144)" d="M0 0 C0.5 -1.5 1.9 -3.6 1.9 -4.9 C1.9 -6.2 1 -6.6 0 -6.6 C-1 -6.6 -1.9 -6.2 -1.9 -4.9 C-1.9 -3.6 -0.5 -1.5 0 0Z"/><path transform="translate(1133.9 371.9) rotate(216)" d="M0 0 C0.5 -1.5 1.9 -3.6 1.9 -4.9 C1.9 -6.2 1 -6.6 0 -6.6 C-1 -6.6 -1.9 -6.2 -1.9 -4.9 C-1.9 -3.6 -0.5 -1.5 0 0Z"/><path transform="translate(1133.9 371.9) rotate(288)" d="M0 0 C0.5 -1.5 1.9 -3.6 1.9 -4.9 C1.9 -6.2 1 -6.6 0 -6.6 C-1 -6.6 -1.9 -6.2 -1.9 -4.9 C-1.9 -3.6 -0.5 -1.5 0 0Z"/>
<circle cx="1128.4" cy="462.4" r="1"/><path transform="translate(1128.4 462.4) rotate(0)" d="M0 0 C0.5 -1.5 1.9 -3.6 1.9 -4.9 C1.9 -6.2 1 -6.6 0 -6.6 C-1 -6.6 -1.9 -6.2 -1.9 -4.9 C-1.9 -3.6 -0.5 -1.5 0 0Z"/><path transform="translate(1128.4 462.4) rotate(72)" d="M0 0 C0.5 -1.5 1.9 -3.6 1.9 -4.9 C1.9 -6.2 1 -6.6 0 -6.6 C-1 -6.6 -1.9 -6.2 -1.9 -4.9 C-1.9 -3.6 -0.5 -1.5 0 0Z"/><path transform="translate(1128.4 462.4) rotate(144)" d="M0 0 C0.5 -1.5 1.9 -3.6 1.9 -4.9 C1.9 -6.2 1 -6.6 0 -6.6 C-1 -6.6 -1.9 -6.2 -1.9 -4.9 C-1.9 -3.6 -0.5 -1.5 0 0Z"/><path transform="translate(1128.4 462.4) rotate(216)" d="M0 0 C0.5 -1.5 1.9 -3.6 1.9 -4.9 C1.9 -6.2 1 -6.6 0 -6.6 C-1 -6.6 -1.9 -6.2 -1.9 -4.9 C-1.9 -3.6 -0.5 -1.5 0 0Z"/><path transform="translate(1128.4 462.4) rotate(288)" d="M0 0 C0.5 -1.5 1.9 -3.6 1.9 -4.9 C1.9 -6.2 1 -6.6 0 -6.6 C-1 -6.6 -1.9 -6.2 -1.9 -4.9 C-1.9 -3.6 -0.5 -1.5 0 0Z"/>
</g>
<text transform="translate(222.6 666.6) scale(0.922 1)" font-size="35.5" fill="#000" stroke="#000" stroke-width="0.55">Wavelength (nm)</text>
<text transform="translate(32.6 491.5) rotate(-90)" font-size="34.1" textLength="366" lengthAdjust="spacingAndGlyphs" fill="#000" stroke="#000" stroke-width="0.55">Absorbance (arb. units)</text>
<text transform="translate(736.5 344.5) rotate(-90)" font-size="34.9" textLength="89.7" lengthAdjust="spacingAndGlyphs" fill="#000" stroke="#000" stroke-width="0.55">I (µA)</text>
<text transform="translate(930.3 668.9) scale(0.86 1)" font-size="38.5" fill="#000" stroke="#000" stroke-width="0.55">E <tspan font-weight="bold">(</tspan>V vs Fc<tspan font-size="29" dy="-10.5">+</tspan><tspan dy="10.5" dx="-0.5">/Fc</tspan><tspan font-weight="bold">)</tspan></text>
<text transform="translate(307.8 381.2) scale(0.911 1)" font-size="32.5" fill="#ff3fa9" stroke="#ff3fa9" stroke-width="0.4">VSc<tspan font-size="22.8" dy="9">2</tspan><tspan dy="-9">C@</tspan><tspan font-style="italic" dx="3">D</tspan><tspan font-size="22.8" dy="9">5<tspan font-style="italic">h</tspan></tspan><tspan dy="-9">(6)-C</tspan><tspan font-size="22.8" dy="9">80</tspan><tspan dy="-9"> (A)</tspan></text>
<text transform="translate(304.3 506.5) scale(0.911 1)" font-size="32.5" fill="#2142ff" stroke="#2142ff" stroke-width="0.4">VSc<tspan font-size="22.8" dy="9">2</tspan><tspan dy="-9">C@</tspan><tspan font-style="italic" dx="3">D</tspan><tspan font-size="22.8" dy="9">3<tspan font-style="italic">h</tspan></tspan><tspan dy="-9">(5)-C</tspan><tspan font-size="22.8" dy="9">78</tspan><tspan dy="-9"> (B)</tspan></text>
<text transform="translate(796.2 258.2) scale(0.9 1)" font-size="36.3" fill="#ff3fa9">A</text>
<text x="798.2" y="431.3" font-size="34.6" fill="#2142ff">B</text>
</svg></body></html>
